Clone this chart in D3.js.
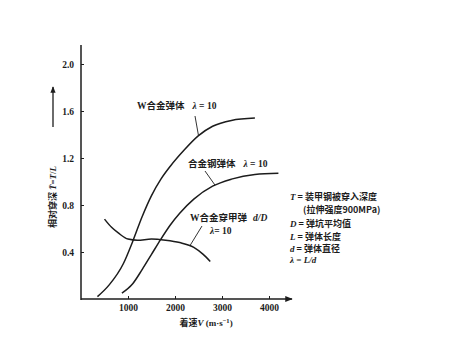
<!DOCTYPE html>
<html>
<head>
<meta charset="utf-8">
<script src="https://cdn.jsdelivr.net/npm/d3@7"></script>
<style>
  html, body { margin: 0; padding: 0; background: #fff; }
  svg { display: block; }
  .cjk { font-family: "Noto Sans CJK SC", sans-serif; font-weight: 700; }
  .num { font-family: "Liberation Serif", "DejaVu Serif", serif; font-weight: 700; }
  .it  { font-family: "Liberation Serif", "DejaVu Serif", serif; font-style: italic; font-weight: 700; }
</style>
</head>
<body>
<svg id="chart" width="451" height="342"></svg>
<script>
// Impact velocity (m/s) and relative penetration T/L for each projectile
const wAlloyV   = [350, 600, 900, 1100, 1300, 1500, 1700, 1900, 2200, 2500, 2800, 3200, 3700];
const wAlloyT   = [0.02, 0.12, 0.30, 0.49, 0.70, 0.88, 1.02, 1.13, 1.27, 1.39, 1.47, 1.52, 1.54];

const steelV    = [870, 1100, 1300, 1500, 1700, 1900, 2100, 2400, 2800, 3200, 3700, 4200];
const steelT    = [0.05, 0.13, 0.25, 0.38, 0.51, 0.63, 0.73, 0.85, 0.96, 1.02, 1.06, 1.07];

const craterV   = [500, 650, 800, 1000, 1200, 1500, 1800, 2100, 2400, 2600, 2750];
const craterT   = [0.68, 0.61, 0.56, 0.51, 0.50, 0.51, 0.50, 0.48, 0.44, 0.38, 0.32];

const xTicks = [1000, 2000, 3000, 4000];
const yTicks = [0.4, 0.8, 1.2, 1.6, 2.0];

const legendLines = [
  ["T", " = 装甲钢被穿入深度"],
  ["", "(拉伸强度900MPa)"],
  ["D", " = 弹坑平均值"],
  ["L", " = 弹体长度"],
  ["d", " = 弹体直径"],
  ["λ", " = L/d"]
];

const svg = d3.select("#chart");
const ink = "#1c1c1c";
const serif = "'Liberation Serif', 'DejaVu Serif', serif";

const x = d3.scaleLinear().domain([0, 4000]).range([81, 269]);
const y = d3.scaleLinear().domain([0, 2.0]).range([299, 64]);

// arrow marker for the axes
svg.append("defs").append("marker")
  .attr("id", "arr").attr("viewBox", "0 0 10 10")
  .attr("refX", 9).attr("refY", 5)
  .attr("markerWidth", 7).attr("markerHeight", 5)
  .attr("orient", "auto")
  .append("path").attr("d", "M0,1 L10,5 L0,9 Z").attr("fill", ink);

// x axis: line with arrow, inward ticks
const xAxis = svg.append("g").attr("transform", `translate(0,${y(0)})`)
  .call(d3.axisBottom(x).tickValues(xTicks).tickSize(-3).tickPadding(5).tickFormat(d3.format("d")));
xAxis.select(".domain").remove();
xAxis.attr("font-family", serif).attr("font-weight", 700).attr("font-size", 9.5);
xAxis.selectAll("line").attr("stroke", ink).attr("stroke-width", 1);
xAxis.selectAll("text").attr("fill", ink);
svg.append("line").attr("x1", x(0)).attr("x2", 292).attr("y1", y(0)).attr("y2", y(0))
  .attr("stroke", ink).attr("stroke-width", 1.5).attr("marker-end", "url(#arr)");

// y axis
const yAxis = svg.append("g").attr("transform", `translate(${x(0)},0)`)
  .call(d3.axisLeft(y).tickValues(yTicks).tickSize(-3).tickPadding(7).tickFormat(d3.format(".1f")));
yAxis.select(".domain").remove();
yAxis.attr("font-family", serif).attr("font-weight", 700).attr("font-size", 9.5);
yAxis.selectAll("line").attr("stroke", ink).attr("stroke-width", 1);
yAxis.selectAll("text").attr("fill", ink);
svg.append("line").attr("x1", x(0)).attr("x2", x(0)).attr("y1", y(0) + 1).attr("y2", 45)
  .attr("stroke", ink).attr("stroke-width", 1.5);

// curves
const line = d3.line().x(d => x(d[0])).y(d => y(d[1])).curve(d3.curveMonotoneX);
const series = [
  d3.zip(wAlloyV, wAlloyT),
  d3.zip(steelV, steelT),
  d3.zip(craterV, craterT)
];
svg.append("g").selectAll("path").data(series).join("path")
  .attr("d", line).attr("fill", "none").attr("stroke", ink).attr("stroke-width", 1.5);

// curve labels with leader lines
function label(g, px, py, parts) {
  const t = g.append("text").attr("x", px).attr("y", py).attr("font-size", 9.5).attr("fill", ink);
  parts.forEach(p => {
    const s = t.append("tspan").attr("class", p[1]).text(p[0]);
    if (p[2]) s.attr("dx", p[2]);
  });
}
const ann = svg.append("g");
label(ann, 137, 109, [["W", "num"], ["合金弹体", "cjk"], ["λ", "it", 8], [" = 10", "num"]]);
label(ann, 188, 167, [["合金钢弹体", "cjk"], ["λ", "it", 8], [" = 10", "num"]]);
label(ann, 190, 221, [["W", "num"], ["合金穿甲弹", "cjk"], ["d/D", "it", 6]]);
label(ann, 210, 234, [["λ", "it"], ["= 10", "num"]]);

const leaders = [
  [[195, 116], [x(2500), y(1.39)]],
  [[205, 171], [x(2850), y(0.97)]],
  [[202, 226], [x(2320), y(0.455)]]
];
ann.selectAll("line.lead").data(leaders).join("line").attr("class", "lead")
  .attr("x1", d => d[0][0]).attr("y1", d => d[0][1])
  .attr("x2", d => d[1][0]).attr("y2", d => d[1][1])
  .attr("stroke", ink).attr("stroke-width", 0.9);

// variable definitions
const leg = svg.append("g");
legendLines.forEach((l, i) => {
  const ly = [200, 213, 227, 240, 252, 263][i];
  const t = leg.append("text").attr("x", l[0] ? 290 : 303).attr("y", ly)
    .attr("font-size", 9).attr("fill", ink);
  if (l[0]) t.append("tspan").attr("class", "it").text(l[0]);
  t.append("tspan").attr("class", l[0] === "λ" ? "it" : "cjk").text(l[1]);
});

// axis titles
const xt = svg.append("text").attr("x", 206).attr("y", 326).attr("text-anchor", "middle")
  .attr("font-size", 9).attr("fill", ink);
xt.append("tspan").attr("class", "cjk").text("着速");
xt.append("tspan").attr("class", "it").text("V");
xt.append("tspan").attr("class", "num").text(" (m·s");
xt.append("tspan").attr("class", "num").attr("dy", -3).attr("font-size", 6.5).text("−1");
xt.append("tspan").attr("class", "num").attr("dy", 3).text(")");

const yt = svg.append("text").attr("transform", "translate(56,197) rotate(-90)")
  .attr("text-anchor", "middle").attr("font-size", 9).attr("fill", ink);
yt.append("tspan").attr("class", "cjk").text("相对穿深 ");
yt.append("tspan").attr("class", "it").text("T̄");
yt.append("tspan").attr("class", "num").text("=");
yt.append("tspan").attr("class", "it").text("T");
yt.append("tspan").attr("class", "num").text("/");
yt.append("tspan").attr("class", "it").text("L");

svg.append("line").attr("x1", 53).attr("x2", 53).attr("y1", 127).attr("y2", 87)
  .attr("stroke", ink).attr("stroke-width", 1.3).attr("marker-end", "url(#arr)");
</script>
</body>
</html>
